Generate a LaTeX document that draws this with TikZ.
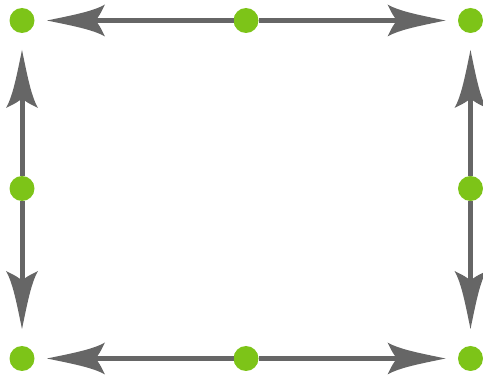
\documentclass[tikz,border=0pt]{standalone}
\usetikzlibrary{arrows.meta}
\definecolor{linegray}{RGB}{102,102,102}
\definecolor{dotgreen}{RGB}{125,196,24}
\pgfdeclarearrow{
  name = Swept,
  setup code = {
    \pgfarrowssettipend{0pt}
    \pgfarrowssetbackend{-58pt}
    \pgfarrowssetlineend{-44pt}
  },
  drawing code = {
    \pgfpathmoveto{\pgfpointorigin}
    \pgfpathcurveto{\pgfpoint{-24pt}{5pt}}{\pgfpoint{-46pt}{9pt}}{\pgfpoint{-58pt}{16pt}}
    \pgfpathcurveto{\pgfpoint{-54pt}{8pt}}{\pgfpoint{-51pt}{2pt}}{\pgfpoint{-48pt}{0pt}}
    \pgfpathcurveto{\pgfpoint{-51pt}{-2pt}}{\pgfpoint{-54pt}{-8pt}}{\pgfpoint{-58pt}{-16pt}}
    \pgfpathcurveto{\pgfpoint{-46pt}{-9pt}}{\pgfpoint{-24pt}{-5pt}}{\pgfpointorigin}
    \pgfpathclose
    \pgfusepathqfill
  },
  parameters = {},
}
\tikzset{
  dot/.style={circle, fill=dotgreen, minimum size=25pt, inner sep=0pt, outer sep=0pt},
  conn/.style={draw=linegray, fill=linegray, line width=5pt, -{Swept}},
  hconn/.style={conn, shorten >=12.5pt},
  vconn/.style={conn, shorten >=17pt},
}
\begin{document}
\begin{tikzpicture}[x=1pt,y=-1pt]
\useasboundingbox (0,0) rectangle (483,377);
\node[dot] (tl) at (22,20.5) {};
\node[dot] (tm) at (246,20.5) {};
\node[dot] (tr) at (470.5,20.5) {};
\node[dot] (ml) at (22,188.5) {};
\node[dot] (mr) at (470.5,188.5) {};
\node[dot] (bl) at (22,358.5) {};
\node[dot] (bm) at (246,358.5) {};
\node[dot] (br) at (470.5,358.5) {};
\draw[hconn] (tm) -- (tl);
\draw[hconn] (tm) -- (tr);
\draw[hconn] (bm) -- (bl);
\draw[hconn] (bm) -- (br);
\draw[vconn] (ml) -- (tl);
\draw[vconn] (ml) -- (bl);
\draw[vconn] (mr) -- (tr);
\draw[vconn] (mr) -- (br);
\end{tikzpicture}
\end{document}
